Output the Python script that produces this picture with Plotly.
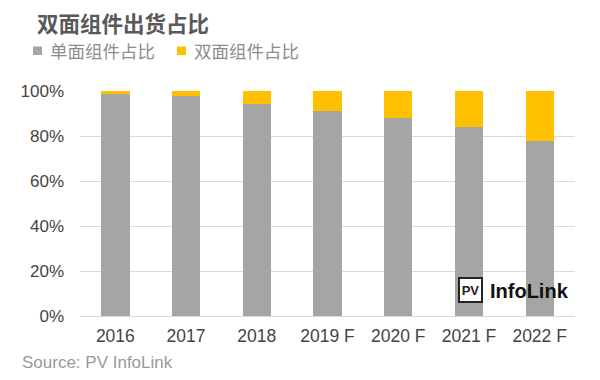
import plotly.graph_objects as go

categories = ["2016", "2017", "2018", "2019 F", "2020 F", "2021 F", "2022 F"]
mono_share = [98.7, 97.8, 94.5, 91.4, 88.0, 84.3, 77.8]
bifacial_share = [round(100 - v, 1) for v in mono_share]
series_names = ["单面组件占比", "双面组件占比"]
y_ticks = [0, 20, 40, 60, 80, 100]
y_tick_labels = [f"{v}%" for v in y_ticks]

GRAY = "#A5A5A5"
YELLOW = "#FFC000"
LATIN = "Liberation Sans, Arial, sans-serif"
CJK = "Noto Sans CJK SC, sans-serif"

# page is offset by the 8px body margin; figure is 592x372
W, H = 592, 372
OFF = 8
L, T, PW, PH = 72, 83, 495, 225


def px(X):  # page pixel x -> paper x
    return (X - OFF - L) / PW


def py(Y):  # page pixel y -> paper y
    return (OFF + T + PH - Y) / PH


fig = go.Figure()
fig.add_trace(go.Bar(x=categories, y=mono_share, name=series_names[0],
                     marker=dict(color=GRAY, line=dict(width=0)), width=0.4))
fig.add_trace(go.Bar(x=categories, y=bifacial_share, name=series_names[1],
                     marker=dict(color=YELLOW, line=dict(width=0)), width=0.4))

annotations = [
    dict(text="<b>双面组件出货占比</b>", x=px(35), y=py(22), xanchor="left", yanchor="middle",
         font=dict(size=21.5, color="#595959", family=CJK)),
    dict(text=series_names[0], x=px(48), y=py(51), xanchor="left", yanchor="middle",
         font=dict(size=17.5, color="#8c8c8c", family=CJK)),
    dict(text=series_names[1], x=px(192), y=py(51), xanchor="left", yanchor="middle",
         font=dict(size=17.5, color="#8c8c8c", family=CJK)),
    dict(text="Source: PV InfoLink", x=px(20), y=py(362), xanchor="left", yanchor="middle",
         font=dict(size=17, color="#9a9a9a", family=LATIN)),
    dict(text="<b>PV</b>", x=px(470), y=py(290), xanchor="center", yanchor="middle",
         font=dict(size=13, color="#222222", family=LATIN), width=21, height=22,
         bordercolor="#222222", borderwidth=2, borderpad=0, bgcolor="white"),
    dict(text="<b>InfoLink</b>", x=px(488), y=py(291), xanchor="left", yanchor="middle",
         font=dict(size=20, color="#111111", family=LATIN)),
]
for a in annotations:
    a.update(xref="paper", yref="paper", showarrow=False)

shapes = [
    dict(type="rect", x0=px(33), x1=px(42), y0=py(55), y1=py(46.5),
         fillcolor=GRAY, line=dict(width=0)),
    dict(type="rect", x0=px(177), x1=px(186), y0=py(55), y1=py(46.5),
         fillcolor=YELLOW, line=dict(width=0)),
]
for s in shapes:
    s.update(xref="paper", yref="paper", layer="above")

fig.update_layout(
    barmode="stack",
    width=W, height=H,
    margin=dict(l=L, r=W - L - PW, t=T, b=H - T - PH, pad=0),
    paper_bgcolor="white", plot_bgcolor="white",
    font=dict(family=LATIN, color="#444", size=17),
    showlegend=False,
    annotations=annotations,
    shapes=shapes,
)
fig.update_xaxes(showgrid=False, showline=True, linecolor="#d9d9d9", linewidth=1,
                 ticks="", tickfont=dict(size=17.5, color="#444444", family=LATIN),
                 range=[-0.5, 6.5], ticklabelstandoff=4)
fig.update_yaxes(range=[0, 100.2], tickvals=y_ticks, ticktext=y_tick_labels,
                 showgrid=True, gridcolor="#d9d9d9", gridwidth=1, zeroline=False,
                 ticks="", ticklabelstandoff=15,
                 tickfont=dict(size=17, color="#444444", family=LATIN))

fig.write_html("out.html")
